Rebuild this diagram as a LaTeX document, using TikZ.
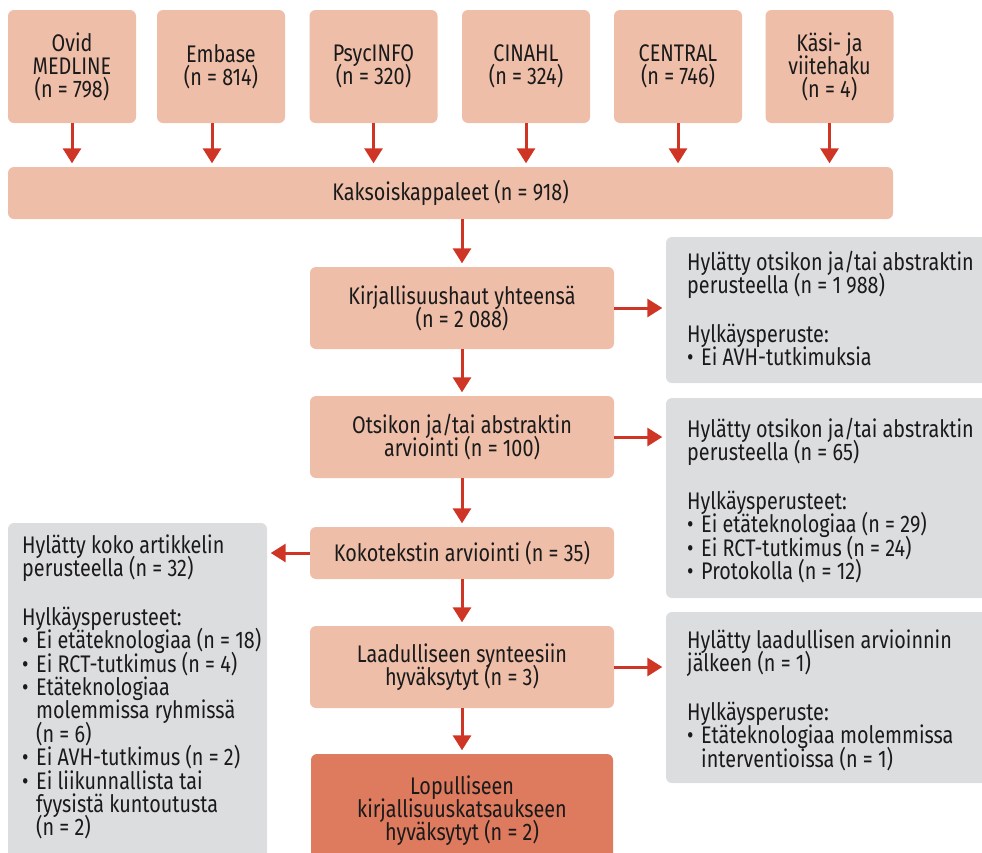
\documentclass[tikz,border=0pt]{standalone}
\usepackage{fontspec}
\setmainfont{Fira Sans}[FakeStretch=0.825]
\usetikzlibrary{arrows.meta}
\definecolor{salmon}{HTML}{EEBEA9}
\definecolor{final}{HTML}{DE7A5E}
\definecolor{greybox}{HTML}{DCDDDF}
\definecolor{arrowred}{HTML}{CF3524}
\definecolor{ink}{HTML}{1A1A1A}
\newlength\bw
\setlength\bw{14pt}
\newcommand\tightsize[2]{\fontsize{#1}{#2}\selectfont\lineskiplimit=-20pt\relax}
\newcommand\itm{\par\hangindent=\bw\hangafter=1\noindent\makebox[\bw][l]{\textbullet}}
\newcommand\gap{\\[25.5pt]}
\newcommand\notebox[1]{\parbox[t]{330pt}{\raggedright\tightsize{24}{23.4}#1}}
\begin{document}
\begin{tikzpicture}[x=1pt,y=-1pt,
  stage/.style={fill=salmon, rounded corners=6pt, inner sep=0pt, align=center,
    text=ink, font=\tightsize{24}{23}},
  note/.style={fill=greybox, rounded corners=6pt, inner sep=0pt},
  notetext/.style={anchor=base west, inner sep=0pt, text=ink},
  flow/.style={draw=arrowred, line width=3pt,
    -{Triangle[width=18pt,length=15pt]}, shorten >=3.5pt}]
\useasboundingbox (0,0) rectangle (982,852);

% source databases
\node[stage, minimum width=128pt, minimum height=113pt] (m1) at (72,66.5) {Ovid\\MEDLINE\\(n = 798)};
\node[stage, minimum width=128pt, minimum height=113pt] (m2) at (221,66.5) {Embase\\(n = 814)};
\node[stage, minimum width=128pt, minimum height=113pt] (m3) at (373.5,66.5) {PsycINFO\\(n = 320)};
\node[stage, minimum width=128pt, minimum height=113pt] (m4) at (526,66.5) {CINAHL\\(n = 324)};
\node[stage, minimum width=128pt, minimum height=113pt] (m5) at (678,66.5) {CENTRAL\\(n = 746)};
\node[stage, minimum width=128pt, minimum height=113pt] (m6) at (829.5,66.5) {Käsi- ja\\viitehaku\\(n = 4)};

% main flow
\node[stage, minimum width=885pt, minimum height=52pt] (dup) at (450.5,193) {Kaksoiskappaleet (n = 918)};
\node[stage, minimum width=304pt, minimum height=82pt] (haut) at (462,308) {Kirjallisuushaut yhteensä\\(n = 2 088)};
\node[stage, minimum width=304pt, minimum height=82pt] (abs) at (462,437) {Otsikon ja/tai abstraktin\\arviointi (n = 100)};
\node[stage, minimum width=304pt, minimum height=52pt] (koko) at (462,553) {Kokotekstin arviointi (n = 35)};
\node[stage, minimum width=304pt, minimum height=82pt] (laatu) at (462,667) {Laadulliseen synteesiin\\hyväksytyt (n = 3)};
\node[stage, fill=final, minimum width=302pt, minimum height=114pt] (fin) at (462,811) {Lopulliseen\\kirjallisuuskatsaukseen\\hyväksytyt (n = 2)};

% exclusion boxes
\node[note, minimum width=324pt, minimum height=146pt] (r1) at (828,310) {};
\node[note, minimum width=324pt, minimum height=200pt] (r2) at (828,498) {};
\node[note, minimum width=324pt, minimum height=171pt] (r3) at (828,697.5) {};
\node[note, minimum width=259pt, minimum height=357pt] (l1) at (137.5,701.5) {};

\node[notetext] (t1) at (687,270) {\notebox{Hylätty otsikon ja/tai abstraktin\\perusteella (n = 1 988)\gap Hylkäysperuste:\itm Ei AVH-tutkimuksia}};
\node[notetext] (t2) at (687,437) {\notebox{Hylätty otsikon ja/tai abstraktin\\perusteella (n = 65)\gap Hylkäysperusteet:\itm Ei etäteknologiaa (n = 29)\itm Ei RCT-tutkimus (n = 24)\itm Protokolla (n = 12)}};
\node[notetext] (t3) at (687,648) {\notebox{Hylätty laadullisen arvioinnin\\jälkeen (n = 1)\gap Hylkäysperuste:\itm Etäteknologiaa molemmissa\newline interventioissa (n = 1)}};
\node[notetext] (tl) at (22,553) {\notebox{Hylätty koko artikkelin\\perusteella (n = 32)\gap Hylkäysperusteet:\itm Ei etäteknologiaa (n = 18)\itm Ei RCT-tutkimus (n = 4)\itm Etäteknologiaa\newline molemmissa ryhmissä\newline (n = 6)\itm Ei AVH-tutkimus (n = 2)\itm Ei liikunnallista tai\newline fyysistä kuntoutusta\newline (n = 2)}};

% connectors
\foreach \m in {m1,m3,m4,m5,m6}
  \draw[flow] (\m.south) -- (\m.south |- dup.north);
\draw[flow] ([xshift=-9pt]m2.south) -- ([xshift=-9pt]m2.south |- dup.north);
\draw[flow] (dup.south -| haut.north) -- (haut.north);
\draw[flow] (haut) -- (abs);
\draw[flow] (abs) -- (koko);
\draw[flow] (koko) -- (laatu);
\draw[flow] (laatu) -- (fin);
\draw[flow] (haut.east) -- (haut.east -| r1.west);
\draw[flow] (abs.east) -- (abs.east -| r2.west);
\draw[flow] (laatu.east) -- (laatu.east -| r3.west);
\draw[flow] (koko.west) -- (koko.west -| l1.east);
\end{tikzpicture}
\end{document}
